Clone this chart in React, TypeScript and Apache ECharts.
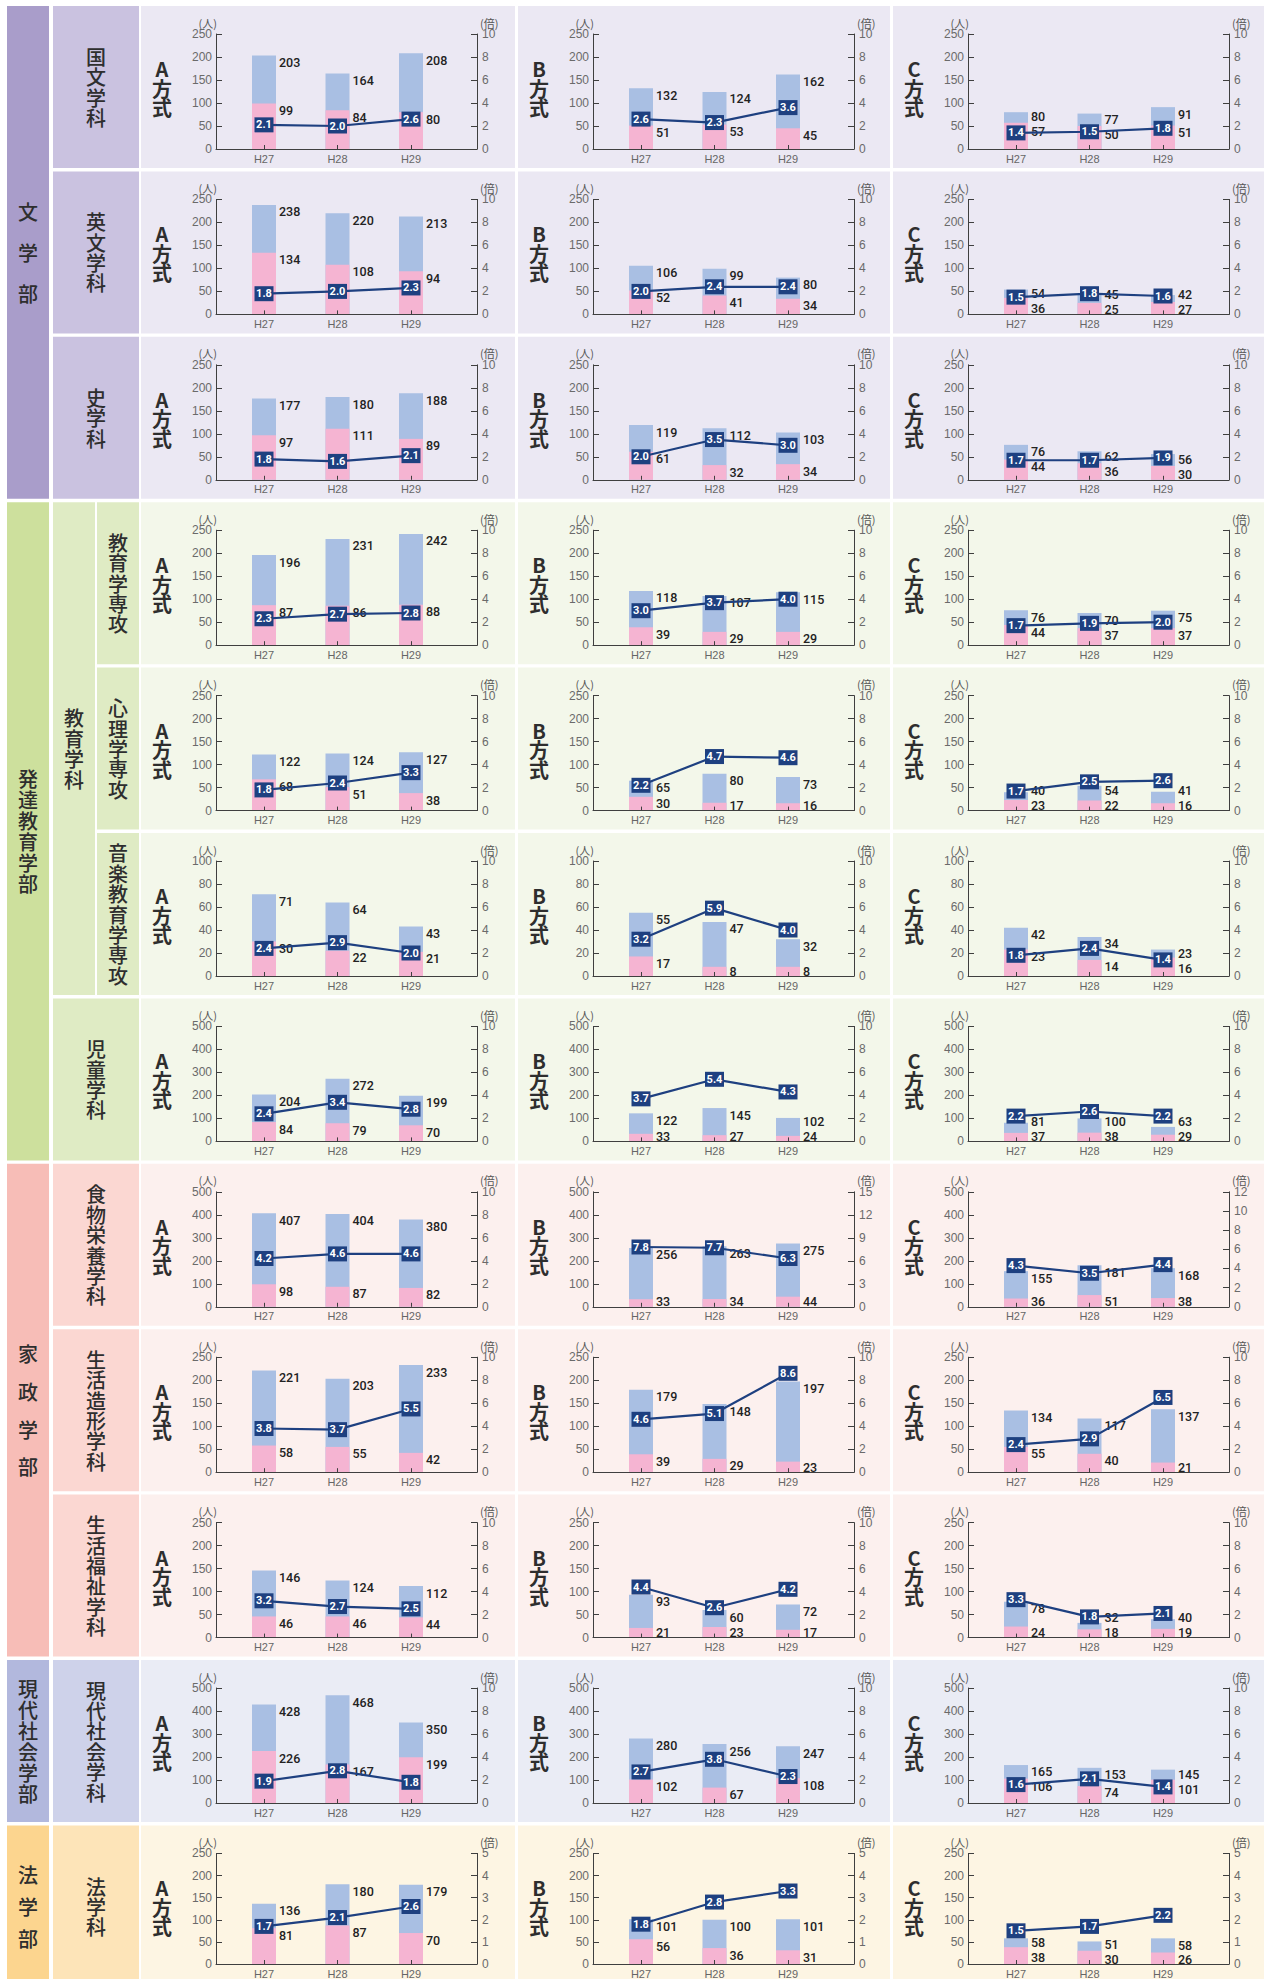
import React, { useEffect, useRef } from 'react';
import * as echarts from 'echarts';

// ---------- data ----------
const years = ['H27', 'H28', 'H29'];
const methods = ['A方式', 'B方式', 'C方式'];

const departments = [
  '国文学科', '英文学科', '史学科', '教育学専攻', '心理学専攻', '音楽教育学専攻',
  '児童学科', '食物栄養学科', '生活造形学科', '生活福祉学科', '現代社会学科', '法学科',
];

// applicants (blue bars) per department: [A, B, C] x [H27, H28, H29]
const applicants = [
  [[203, 164, 208], [132, 124, 162], [80, 77, 91]],
  [[238, 220, 213], [106, 99, 80], [54, 45, 42]],
  [[177, 180, 188], [119, 112, 103], [76, 62, 56]],
  [[196, 231, 242], [118, 107, 115], [76, 70, 75]],
  [[122, 124, 127], [65, 80, 73], [40, 54, 41]],
  [[71, 64, 43], [55, 47, 32], [42, 34, 23]],
  [[204, 272, 199], [122, 145, 102], [81, 100, 63]],
  [[407, 404, 380], [256, 263, 275], [155, 181, 168]],
  [[221, 203, 233], [179, 148, 197], [134, 117, 137]],
  [[146, 124, 112], [93, 60, 72], [78, 32, 40]],
  [[428, 468, 350], [280, 256, 247], [165, 153, 145]],
  [[136, 180, 179], [101, 100, 101], [58, 51, 58]],
];

// successful applicants (pink bars)
const passers = [
  [[99, 84, 80], [51, 53, 45], [57, 50, 51]],
  [[134, 108, 94], [52, 41, 34], [36, 25, 27]],
  [[97, 111, 89], [61, 32, 34], [44, 36, 30]],
  [[87, 86, 88], [39, 29, 29], [44, 37, 37]],
  [[68, 51, 38], [30, 17, 16], [23, 22, 16]],
  [[30, 22, 21], [17, 8, 8], [23, 14, 16]],
  [[84, 79, 70], [33, 27, 24], [37, 38, 29]],
  [[98, 87, 82], [33, 34, 44], [36, 51, 38]],
  [[58, 55, 42], [39, 29, 23], [55, 40, 21]],
  [[46, 46, 44], [21, 23, 17], [24, 18, 19]],
  [[226, 167, 199], [102, 67, 108], [106, 74, 101]],
  [[81, 87, 70], [56, 36, 31], [38, 30, 26]],
];

// competition ratio (line, right axis)
const ratios = [
  [[2.1, 2.0, 2.6], [2.6, 2.3, 3.6], [1.4, 1.5, 1.8]],
  [[1.8, 2.0, 2.3], [2.0, 2.4, 2.4], [1.5, 1.8, 1.6]],
  [[1.8, 1.6, 2.1], [2.0, 3.5, 3.0], [1.7, 1.7, 1.9]],
  [[2.3, 2.7, 2.8], [3.0, 3.7, 4.0], [1.7, 1.9, 2.0]],
  [[1.8, 2.4, 3.3], [2.2, 4.7, 4.6], [1.7, 2.5, 2.6]],
  [[2.4, 2.9, 2.0], [3.2, 5.9, 4.0], [1.8, 2.4, 1.4]],
  [[2.4, 3.4, 2.8], [3.7, 5.4, 4.3], [2.2, 2.6, 2.2]],
  [[4.2, 4.6, 4.6], [7.8, 7.7, 6.3], [4.3, 3.5, 4.4]],
  [[3.8, 3.7, 5.5], [4.6, 5.1, 8.6], [2.4, 2.9, 6.5]],
  [[3.2, 2.7, 2.5], [4.4, 2.6, 4.2], [3.3, 1.8, 2.1]],
  [[1.9, 2.8, 1.8], [2.7, 3.8, 2.3], [1.6, 2.1, 1.4]],
  [[1.7, 2.1, 2.6], [1.8, 2.8, 3.3], [1.5, 1.7, 2.2]],
];

// axis scales: people axis (max) and ratio axis (max, tick interval)
const peopleMax = [250, 250, 250, 250, 250, 100, 500, 500, 250, 250, 500, 250];
const ratioMax = [
  [10, 10, 10], [10, 10, 10], [10, 10, 10], [10, 10, 10], [10, 10, 10], [10, 10, 10],
  [10, 10, 10], [10, 15, 12], [10, 10, 10], [10, 10, 10], [10, 10, 10], [5, 5, 5],
];
const ratioInterval = [
  [2, 2, 2], [2, 2, 2], [2, 2, 2], [2, 2, 2], [2, 2, 2], [2, 2, 2],
  [2, 2, 2], [2, 3, 2], [2, 2, 2], [2, 2, 2], [2, 2, 2], [1, 1, 1],
];

// faculties
const faculties = ['文学部', '発達教育学部', '家政学部', '現代社会学部', '法学部'];
const facultyRows = [[0, 2], [3, 6], [7, 9], [10, 10], [11, 11]];
const facultyLineStep = [41, 21, 37.7, 21, 32];
const subDepartment = '教育学科';
const subDepartmentRows = [3, 5];

// ---------- styling / layout ----------
const facultyColor = ['#a99dca', '#cde09d', '#f7bdb7', '#b2b8dd', '#fcd58f'];
const deptColor = ['#cac2e0', '#dfebc4', '#fbd7d2', '#ced2ea', '#fde4b8'];
const panelColor = ['#ebe8f3', '#f3f7ea', '#fcf0ee', '#eaecf5', '#fdf5e3'];
const BLUE = '#a9bfe3';
const PINK = '#f5b4d2';
const NAVY = '#1e4080';
const AXIS = '#3f3f3f';

const ROW_TOP0 = 6;
const ROW_PITCH = 165.4;
const ROW_H = 162;
const PANEL_X = [141, 518, 893];
const PANEL_W = [374, 372, 371];
const AXIS_L = 75;
const AXIS_W = 261;
const PLOT_TOP = 28;
const PLOT_H = 115;
const CAT_FIRST = 48;
const CAT_STEP = 73.5;
const BAR_W = 24;
const LABEL_DY = 7;
const LABEL_SEP = 15;
const LABEL_MAX_Y = PLOT_H - 5;

const CJK = "'Noto Sans CJK JP', 'Noto Sans CJK SC', sans-serif";
const NUM = "Roboto, 'Liberation Sans', sans-serif";
const TICK = "'Liberation Sans', 'DejaVu Sans', sans-serif";

function facultyOf(row: number) {
  for (let f = 0; f < facultyRows.length; f++) {
    if (row >= facultyRows[f][0] && row <= facultyRows[f][1]) return f;
  }
  return 0;
}
const rowTop = (r: number) => ROW_TOP0 + r * ROW_PITCH;

function vText(text: string, x: number, y: number, size: number, step: number, weight: any = 'normal') {
  return {
    type: 'text',
    x,
    y,
    z: 10,
    style: {
      text: text.split('').join('\n'),
      fontSize: size,
      fontFamily: CJK,
      fontWeight: weight,
      lineHeight: step,
      fill: '#2e2e2e',
      align: 'center',
      verticalAlign: 'middle',
    },
  };
}

function bgRect(x: number, y: number, w: number, h: number, fill: string) {
  return { type: 'rect', z: -10, silent: true, shape: { x, y, width: w, height: h }, style: { fill } };
}

// label offsets (relative to each bar's top) keeping the two labels apart
function labelOffsets(total: number, pass: number, max: number) {
  const bTop = PLOT_H * (1 - total / max);
  const pTop = PLOT_H * (1 - pass / max);
  let cb = bTop + LABEL_DY;
  let cp = pTop + LABEL_DY;
  if (cp - cb < LABEL_SEP) {
    const mid = (cb + cp) / 2;
    cb = mid - LABEL_SEP / 2;
    cp = mid + LABEL_SEP / 2;
  }
  if (cp > LABEL_MAX_Y) {
    const d = cp - LABEL_MAX_Y;
    cp -= d;
    if (cp - cb < LABEL_SEP) cb = cp - LABEL_SEP;
  }
  return { blue: cb - bTop, pink: cp - pTop };
}

function buildOption() {
  const graphic: any[] = [];
  const grid: any[] = [];
  const xAxis: any[] = [];
  const yAxis: any[] = [];
  const series: any[] = [];

  // faculty cells
  faculties.forEach((name, f) => {
    const [r0, r1] = facultyRows[f];
    const y0 = rowTop(r0);
    const y1 = rowTop(r1) + ROW_H;
    graphic.push(bgRect(7, y0, 42, y1 - y0, facultyColor[f]));
    graphic.push(vText(name, 28, (y0 + y1) / 2, 20, facultyLineStep[f], 500));
  });

  // sub department (教育学科)
  {
    const y0 = rowTop(subDepartmentRows[0]);
    const y1 = rowTop(subDepartmentRows[1]) + ROW_H;
    graphic.push(bgRect(53, y0, 42, y1 - y0, deptColor[1]));
    graphic.push(vText(subDepartment, 74, (y0 + y1) / 2, 20, 20.5, 500));
  }

  const labelBase = {
    show: true,
    align: 'left',
    verticalAlign: 'middle',
    fontSize: 12.5,
    fontWeight: 500,
    fontFamily: NUM,
    color: '#222',
    formatter: (p: any) => String(p.value[1]),
  };

  departments.forEach((dept, r) => {
    const f = facultyOf(r);
    const top = rowTop(r);
    const nested = r >= subDepartmentRows[0] && r <= subDepartmentRows[1];
    const dx = nested ? 97 : 53;
    const dw = nested ? 42 : 86;
    graphic.push(bgRect(dx, top, dw, ROW_H, deptColor[f]));
    graphic.push(vText(dept, dx + dw / 2, top + ROW_H / 2, 20, 20.4, 500));

    for (let m = 0; m < 3; m++) {
      const px = PANEL_X[m];
      graphic.push(bgRect(px, top, PANEL_W[m], ROW_H, panelColor[f]));
      graphic.push(vText(methods[m], px + 21, top + 82, 20, 19.5, 'bold'));

      const k = r * 3 + m;
      grid.push({ left: px + AXIS_L, top: top + PLOT_TOP, width: AXIS_W, height: PLOT_H });
      xAxis.push({
        type: 'value',
        gridIndex: k,
        z: 4,
        min: -CAT_FIRST / CAT_STEP,
        max: (AXIS_W - CAT_FIRST) / CAT_STEP,
        splitLine: { show: false },
        axisLine: { show: true, onZero: false, lineStyle: { color: AXIS, width: 1 } },
        axisTick: { show: true, inside: true, length: 4, customValues: [0, 1, 2], lineStyle: { color: AXIS } },
        axisLabel: {
          show: true,
          customValues: [0, 1, 2],
          formatter: (v: number) => years[Math.round(v)] ?? '',
          fontSize: 11,
          color: '#666',
          fontFamily: TICK,
          margin: 4,
        },
      });
      const pm = peopleMax[r];
      yAxis.push({
        type: 'value',
        gridIndex: k,
        z: 4,
        position: 'left',
        min: 0,
        max: pm,
        interval: pm / 5,
        name: '(人)',
        nameLocation: 'end',
        nameGap: 4,
        nameTextStyle: { fontSize: 11, color: '#555', fontFamily: CJK, align: 'right', padding: [0, -1, 0, 0] },
        splitLine: { show: false },
        axisLine: { show: true, onZero: false, lineStyle: { color: AXIS, width: 1 } },
        axisTick: { show: true, inside: true, length: 6, lineStyle: { color: AXIS } },
        axisLabel: { fontSize: 12, color: '#6a6a6a', fontFamily: TICK, margin: 4 },
      });
      const rm = ratioMax[r][m];
      yAxis.push({
        type: 'value',
        gridIndex: k,
        z: 4,
        position: 'right',
        min: 0,
        max: rm,
        interval: ratioInterval[r][m],
        name: '(倍)',
        nameLocation: 'end',
        nameGap: 4,
        nameTextStyle: { fontSize: 11, color: '#555', fontFamily: CJK, align: 'left', padding: [0, 0, 0, 3] },
        splitLine: { show: false },
        axisLine: { show: true, onZero: false, lineStyle: { color: AXIS, width: 1 } },
        axisTick: { show: true, inside: true, length: 6, lineStyle: { color: AXIS } },
        axisLabel: { fontSize: 12, color: '#6a6a6a', fontFamily: TICK, margin: 5 },
      });

      const offs = applicants[r][m].map((v, i) => labelOffsets(v, passers[r][m][i], pm));

      series.push({
        type: 'bar',
        xAxisIndex: k,
        yAxisIndex: 2 * k,
        barWidth: BAR_W,
        barGap: '-100%',
        itemStyle: { color: BLUE },
        label: labelBase,
        z: 2,
        data: applicants[r][m].map((v, i) => ({
          value: [i, v],
          label: { position: [BAR_W + 3, offs[i].blue] },
        })),
      });
      series.push({
        type: 'bar',
        xAxisIndex: k,
        yAxisIndex: 2 * k,
        barWidth: BAR_W,
        barGap: '-100%',
        itemStyle: { color: PINK },
        label: labelBase,
        z: 3,
        data: passers[r][m].map((v, i) => ({
          value: [i, v],
          label: { position: [BAR_W + 3, offs[i].pink] },
        })),
      });
      series.push({
        type: 'line',
        xAxisIndex: k,
        yAxisIndex: 2 * k + 1,
        symbol: 'rect',
        symbolSize: [19, 15],
        itemStyle: { color: NAVY },
        lineStyle: { color: NAVY, width: 2.2 },
        label: {
          show: true,
          position: 'inside',
          color: '#fff',
          fontWeight: 'bold',
          fontSize: 11,
          fontFamily: NUM,
          formatter: (p: any) => Number(p.value[1]).toFixed(1),
        },
        z: 5,
        data: ratios[r][m].map((v, i) => [i, v]),
      });
    }
  });

  return {
    animation: false,
    backgroundColor: '#ffffff',
    graphic,
    grid,
    xAxis,
    yAxis,
    series,
  };
}

export default function App() {
  const ref = useRef<HTMLDivElement>(null);
  useEffect(() => {
    if (!ref.current) return;
    const chart = echarts.init(ref.current, undefined, { renderer: 'svg' });
    chart.setOption(buildOption() as any);
    return () => chart.dispose();
  }, []);
  return (
    <div
      ref={ref}
      style={{ position: 'absolute', left: 0, top: 0, width: 1264, height: 1979, background: '#fff' }}
    />
  );
}
